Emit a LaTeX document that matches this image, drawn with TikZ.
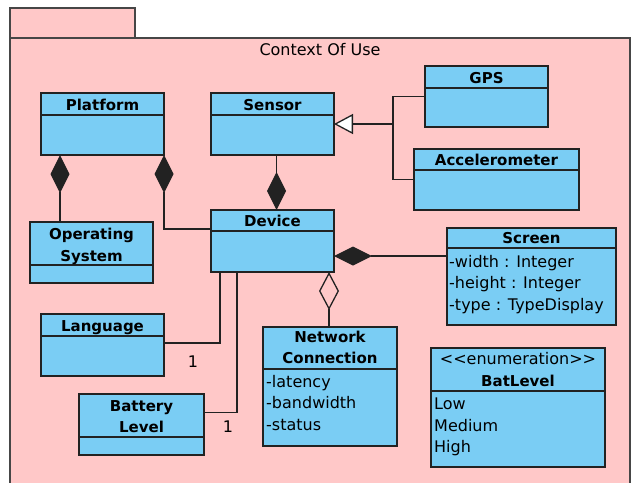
\documentclass[tikz,border=0pt]{standalone}
\usepackage{fontspec}
\setmainfont{DejaVu Sans}
\usetikzlibrary{arrows.meta,calc}
\definecolor{pkgpink}{RGB}{255,200,200}
\definecolor{clsblue}{RGB}{122,205,244}
\definecolor{linec}{RGB}{34,34,34}
\definecolor{framec}{RGB}{70,70,70}
% #1 name, #2 x, #3 y (top left), #4 width, #5 height, #6 header height
\newcommand\umlclass[6]{%
  \node[cls, minimum width=#4pt, minimum height=#5pt] (#1) at (#2,#3) {};
  \draw[link] ([yshift=-#6pt]#1.north west) -- ([yshift=-#6pt]#1.north east);}
\begin{document}
\begin{tikzpicture}[x=1pt,y=-1pt,
  cls/.style={rectangle, draw=linec, fill=clsblue, line width=1.4pt,
    anchor=north west, inner sep=0pt, outer sep=0pt},
  link/.style={draw=linec, line width=1.3pt},
  frame/.style={draw=framec, fill=pkgpink, line width=1.5pt},
  hdr/.style={font=\bfseries\fontsize{15}{18}\selectfont, inner sep=0pt, anchor=base},
  plain/.style={font=\fontsize{16}{19}\selectfont, inner sep=0pt, anchor=base},
  attr/.style={font=\fontsize{16}{19}\selectfont, inner sep=0pt, anchor=base west},
  compstart/.style={link, {Diamond[length=38pt,width=19pt,fill=linec]}-},
  compend/.style={link, -{Diamond[length=38pt,width=19pt,fill=linec]}},
  aggstart/.style={link, {Diamond[open,length=38pt,width=20pt]}-},
  genend/.style={link, -{Triangle[length=19pt,width=20pt,fill=white]}}]
\useasboundingbox (0,0) rectangle (631,482);
\clip (0,0) rectangle (631,482);
\fill[white] (0,0) rectangle (631,482);

% package frame with its tab
\draw[frame] (10,8) rectangle (135,38);
\draw[frame] (10,38) rectangle (630,530);
\node[plain] (pkg-title) at (320,55) {Context Of Use};

% classes
\umlclass{platform}{41}{93}{123}{62}{22}
\umlclass{sensor}{211}{93}{123}{62}{22}
\umlclass{gps}{425}{66}{123}{61}{22}
\umlclass{accel}{414}{149}{165}{61}{21}
\umlclass{device}{211}{210}{123}{62}{21}
\umlclass{os}{30}{222}{123}{61}{43}
\umlclass{screen}{447}{228}{169}{97}{20}
\umlclass{language}{41}{314}{123}{62}{22}
\umlclass{network}{263}{327}{134}{119}{42}
\umlclass{battery}{79}{394}{125}{61}{43}
\umlclass{batlevel}{431}{348}{174}{119}{43}

% class names
\node[hdr] (platform-name) at (102.5,110) {Platform};
\node[hdr] (sensor-name) at (272.5,110) {Sensor};
\node[hdr] (gps-name) at (486.5,83) {GPS};
\node[hdr] (accel-name) at (496.5,165) {Accelerometer};
\node[hdr] (device-name) at (272.5,226) {Device};
\node[hdr] (os-name1) at (91.5,239) {Operating};
\node[hdr] (os-name2) at (91.5,261) {System};
\node[hdr] (screen-name) at (531.5,243) {Screen};
\node[hdr] (language-name) at (102.5,331) {Language};
\node[hdr] (network-name1) at (330,342) {Network};
\node[hdr] (network-name2) at (330,363) {Connection};
\node[hdr] (battery-name1) at (141.5,411) {Battery};
\node[hdr] (battery-name2) at (141.5,432) {Level};
\node[plain] (batlevel-stereo) at (518,364) {<\kern0pt<enumeration>\kern0pt>};
\node[hdr] (batlevel-name) at (518,386) {BatLevel};

% attributes and literals
\node[attr] (screen-a1) at (449,267) {-width : Integer};
\node[attr] (screen-a2) at (449,288) {-height : Integer};
\node[attr] (screen-a3) at (449,310) {-type : TypeDisplay};
\node[attr] (network-a1) at (266,387) {-latency};
\node[attr] (network-a2) at (266,408) {-bandwidth};
\node[attr] (network-a3) at (266,430) {-status};
\node[attr] (batlevel-a1) at (434,409) {Low};
\node[attr] (batlevel-a2) at (434,431) {Medium};
\node[attr] (batlevel-a3) at (434,452) {High};

% compositions
\draw[compstart] ([xshift=19pt]platform.south west) -- ([xshift=30pt]os.north west);
\draw[compstart] (platform.south east) |- ([yshift=-19pt]device.north west);
\draw[compend] ([xshift=4pt]sensor.south) -- ([xshift=4pt]device.north);
\draw[compstart] ([yshift=-15pt]device.east) coordinate (dev-scr) -- (dev-scr -| screen.west);

% aggregation
\draw[aggstart] ([xshift=-5pt]device.south east) coordinate (dev-net) -- (dev-net |- network.north);

% generalization
\coordinate (gen-join) at (393,124);
\draw[link] (gps.west) -| (gen-join);
\draw[link] (accel.west) -| (gen-join);
\draw[genend] (gen-join) -- (sensor.east);

% associations
\draw[link] ([yshift=2pt]language.east) -| ([xshift=9pt]device.south west);
\draw[link] ([yshift=12pt]battery.east) -| ([xshift=26pt]device.south west);
\node[plain] (language-mult) at (193,367) {1};
\node[plain] (battery-mult) at (228,432) {1};
\end{tikzpicture}
\end{document}
